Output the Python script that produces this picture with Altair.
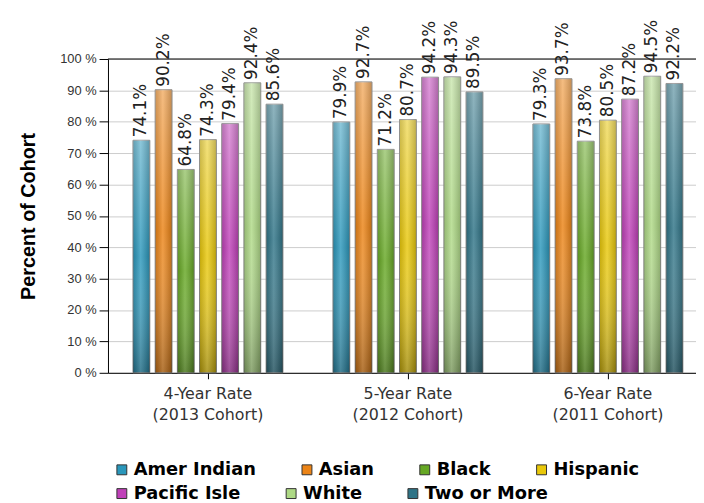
import altair as alt
import pandas as pd

rates = ["4-Year Rate\n(2013 Cohort)", "5-Year Rate\n(2012 Cohort)", "6-Year Rate\n(2011 Cohort)"]
groups = ["Amer Indian", "Asian", "Black", "Hispanic", "Pacific Isle", "White", "Two or More"]
colors = ["#2a97bb", "#ec8416", "#66a824", "#e9c80a", "#c040b9", "#aed985", "#2f7487"]
vals_4yr = [74.1, 90.2, 64.8, 74.3, 79.4, 92.4, 85.6]
vals_5yr = [79.9, 92.7, 71.2, 80.7, 94.2, 94.3, 89.5]
vals_6yr = [79.3, 93.7, 73.8, 80.5, 87.2, 94.5, 92.2]

rows = []
for rate, vals in zip(rates, [vals_4yr, vals_5yr, vals_6yr]):
    for g, v in zip(groups, vals):
        rows.append({"rate": rate, "group": g, "value": v, "label": f"{v:.1f}%"})
df = pd.DataFrame(rows)

y_scale = alt.Scale(domain=[0, 100], nice=False)
y_axis = alt.Axis(title="Percent of Cohort", values=list(range(0, 101, 10)),
                  labelExpr="datum.value + ' %'", labelFont="Liberation Sans",
                  labelFontSize=13, labelColor="#333333", tickColor="black",
                  tickSize=9, labelPadding=3, domainColor="black",
                  gridColor="#cccccc", titleFont="Liberation Sans",
                  titleFontSize=20, titleFontWeight="bold", titleColor="black",
                  titlePadding=21)

x_enc = alt.X("rate:N", sort=rates,
              scale=alt.Scale(range=[0, 606], paddingInner=0.25, paddingOuter=0.125),
              axis=alt.Axis(title=None, labelAngle=0, domainColor="black", tickColor="black",
                            tickSize=6, labelPadding=7, labelFont="DejaVu Sans", labelFontSize=16,
                            labelColor="#333333", labelLineHeight=21,
                            labelExpr="split(datum.label, '\\n')"))
xo_enc = alt.XOffset("group:N", sort=groups,
                     scale=alt.Scale(domain=groups, paddingInner=0.24, paddingOuter=0))
y_enc = alt.Y("value:Q", scale=y_scale, axis=y_axis)

base = alt.Chart(df).encode(x=x_enc, xOffset=xo_enc, y=y_enc)

legend_common = dict(title=None, orient="none", legendX=5, direction="horizontal",
                     columnPadding=42, symbolType="square", symbolSize=100,
                     symbolStrokeColor="#333333", symbolStrokeWidth=1, symbolOpacity=1,
                     labelFont="DejaVu Sans", labelFontWeight="bold", labelFontSize=18,
                     labelColor="black", labelOffset=3, labelLimit=300)

bars = base.mark_bar(stroke="#8a8a8a", strokeWidth=1).encode(
    color=alt.Color("group:N", sort=groups,
                    scale=alt.Scale(domain=groups, range=colors),
                    legend=alt.Legend(values=groups[:4], legendY=406, **legend_common))
)

legend_row2 = base.mark_bar(opacity=0).encode(
    fill=alt.Fill("group:N", sort=groups,
                  scale=alt.Scale(domain=groups, range=colors),
                  legend=alt.Legend(values=groups[4:], legendY=430, **legend_common))
)

shade_v = base.mark_bar(
    color=alt.Gradient(gradient="linear", x1=0, y1=0, x2=0, y2=1,
                       stops=[alt.GradientStop(offset=0, color="rgba(255,255,255,0.35)"),
                              alt.GradientStop(offset=0.5, color="rgba(255,255,255,0.0)"),
                              alt.GradientStop(offset=1, color="rgba(0,0,0,0.30)")]))
shade_h = base.mark_bar(
    color=alt.Gradient(gradient="linear", x1=0, y1=0, x2=1, y2=0,
                       stops=[alt.GradientStop(offset=0, color="rgba(0,0,0,0.15)"),
                              alt.GradientStop(offset=0.45, color="rgba(255,255,255,0.18)"),
                              alt.GradientStop(offset=1, color="rgba(0,0,0,0.20)")]))

labels = base.mark_text(angle=270, align="left", baseline="middle", dx=3,
                        font="DejaVu Sans", fontSize=17, color="#222222").encode(
    text="label:N")

top_rule = alt.Chart(pd.DataFrame({"value": [100]})).mark_rule(color="black", strokeWidth=1).encode(
    y=alt.Y("value:Q", scale=y_scale, axis=y_axis))

chart = alt.layer(bars, legend_row2, shade_v, shade_h, top_rule, labels).properties(
    width=594, height=317,
    padding={"left": 101, "top": 49, "right": 0, "bottom": 129},
    autosize=alt.AutoSizeParams(type="none"),
).resolve_legend(color="independent", fill="independent").configure_view(
    stroke=None).configure_axis(gridWidth=1)

chart.save("out.html", embed_options={"renderer": "svg", "actions": False})
